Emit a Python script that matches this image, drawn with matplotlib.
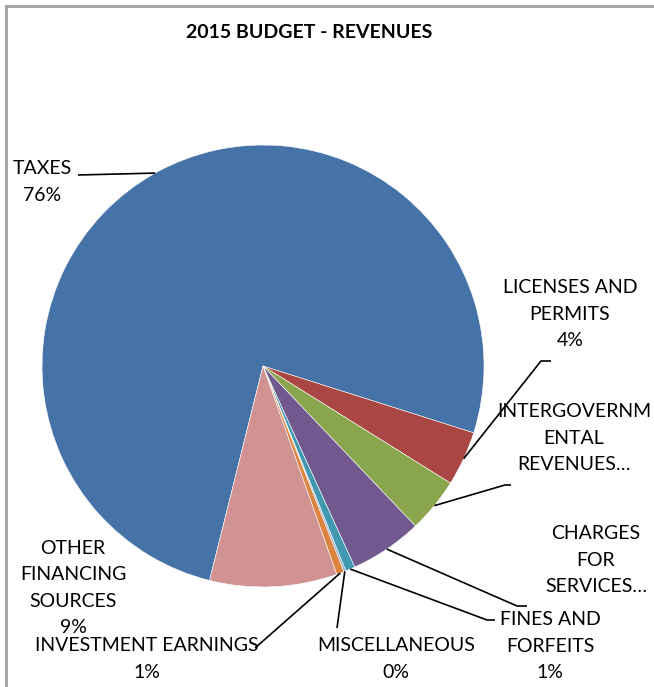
import numpy as np
import matplotlib
matplotlib.use("Agg")
import matplotlib.pyplot as plt

plt.rcParams['font.family'] = ['Lato', 'DejaVu Sans']

# 2015 budget revenue shares (percent)
categories = ["TAXES", "LICENSES AND PERMITS", "INTERGOVERNMENTAL REVENUES",
              "CHARGES FOR SERVICES", "FINES AND FORFEITS", "MISCELLANEOUS",
              "INVESTMENT EARNINGS", "OTHER FINANCING SOURCES"]
shares = [76.0, 4.0, 4.0, 5.3, 0.7, 0.15, 0.55, 9.3]
label_texts = ["TAXES\n76%", "LICENSES AND\nPERMITS\n4%", "INTERGOVERNM\nENTAL\nREVENUES…",
               "CHARGES\nFOR\nSERVICES…", "FINES AND\nFORFEITS\n1%", "MISCELLANEOUS\n0%",
               "INVESTMENT EARNINGS\n1%", "OTHER\nFINANCING\nSOURCES\n9%"]
colors = ["#4572A7", "#AA4643", "#89A54E", "#71588F", "#4198AF",
          "#93A9CF", "#DB843D", "#D19392"]

W, H = 654, 687
fig = plt.figure(figsize=(W / 100, H / 100), dpi=100)
ax = fig.add_axes([0, 0, 1, 1])

cx, cy, r = 263, H - 366, 221
start = -104
wedges, _ = ax.pie(shares, colors=colors, startangle=start, counterclock=False,
                   center=(cx, cy), radius=r, frame=True,
                   wedgeprops=dict(edgecolor='white', linewidth=0.4))
ax.set_xlim(0, W)
ax.set_ylim(0, H)
ax.set_aspect('equal')
ax.axis('off')

def px(x, y):
    return x, H - y

# label centre, elbow point (None = straight leader), end of leader
layout = [
    ((42, 182), None, (78, 175)),
    ((570, 314), (541, 361), (551, 361)),
    ((574, 438), (505, 485), (511, 485)),
    ((596, 560), (517, 606), (527, 606)),
    ((550, 646), (487, 620), (495, 620)),
    ((396, 659), None, (337, 628)),
    ((147, 659), None, (255, 648)),
    ((73, 588), None, None),
]

for w, txt, (pos, elbow, end) in zip(wedges, label_texts, layout):
    ax.text(*px(*pos), txt, ha='center', va='center', fontsize=14,
            linespacing=1.67, color='black')
    if end is None:
        continue
    mid = np.deg2rad((w.theta1 + w.theta2) / 2)
    sx, sy = cx + r * np.cos(mid), cy + r * np.sin(mid)
    xs, ys = [sx], [sy]
    if elbow is not None:
        xs.append(elbow[0]); ys.append(H - elbow[1])
    xs.append(end[0]); ys.append(H - end[1])
    ax.plot(xs, ys, color='black', lw=1.2, solid_capstyle='butt')

ax.text(*px(309, 32), "2015 BUDGET - REVENUES", ha='center', va='center',
        fontsize=14, fontweight='bold')

# chart area border (left and top visible)
ax.plot([5.5, 5.5], [0, H - 5.5], color='#a0a0a0', lw=2)
ax.plot([5.5, W], [H - 5.5, H - 5.5], color='#a0a0a0', lw=2)

fig.savefig("out.png", dpi=100)
